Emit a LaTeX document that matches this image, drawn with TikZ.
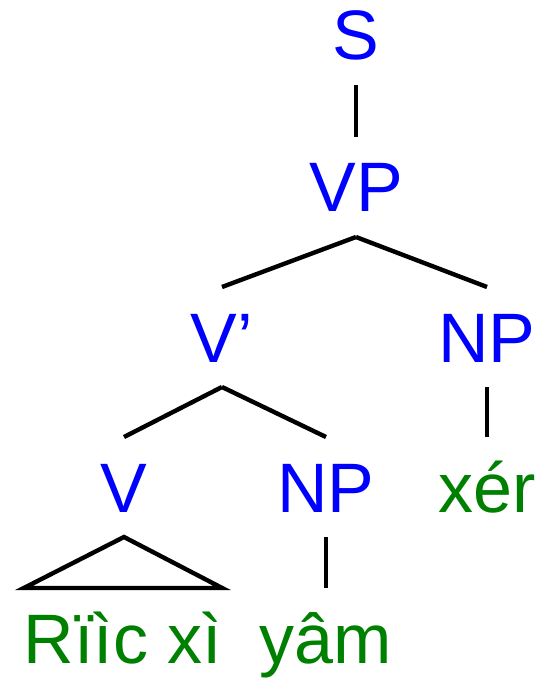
\documentclass[tikz,border=0pt]{standalone}
\usepackage{fontspec}
\setmainfont{Liberation Sans}
\definecolor{catblue}{RGB}{0,0,255}
\definecolor{wordgreen}{RGB}{0,128,0}

\begin{document}
\begin{tikzpicture}[x=0.5pt, y=-0.5pt]
				\tikzstyle{every node}=[inner sep=0pt, outer xsep=0pt, outer ysep=12.5pt, anchor=base, text height=25pt, text depth=0pt, font=\fontsize{35}{42}\selectfont]
				\tikzstyle{cat}=[text=catblue]
				\tikzstyle{word}=[text=wordgreen]
				\tikzstyle{edge}=[line width=2.2pt]
				\useasboundingbox (0,0) rectangle (544,679);
				\node[cat] (S) at (356, 60) {S};
				\node[cat] (VP) at (356, 212) {VP};
				\node[cat] (Vbar) at (222, 362) {V'};
				\node[cat] (NPobj) at (487, 362) {NP};
				\node[cat] (V) at (124, 512) {V};
				\node[cat] (NPin) at (326, 512) {NP};
				\node[word] (xer) at (487, 512) {xér};
				\node[word] (riic) at (123, 663) {Rïìc xì};
				\node[word] (yam) at (326, 663) {yâm};
				\draw [edge] (S.south) -- (VP.north);
				\draw [edge] (VP.south) -- (Vbar.north);
				\draw [edge] (VP.south) -- (NPobj.north);
				\draw [edge] (NPobj.south) -- (xer.north);
				\draw [edge] (Vbar.south) -- (V.north);
				\draw [edge] (Vbar.south) -- (NPin.north);
				\draw [edge] (NPin.south) -- (yam.north);
				\draw [edge] (V.south) -- (riic.north west) -- (riic.north east) -- cycle;
		\end{tikzpicture}
\end{document}
